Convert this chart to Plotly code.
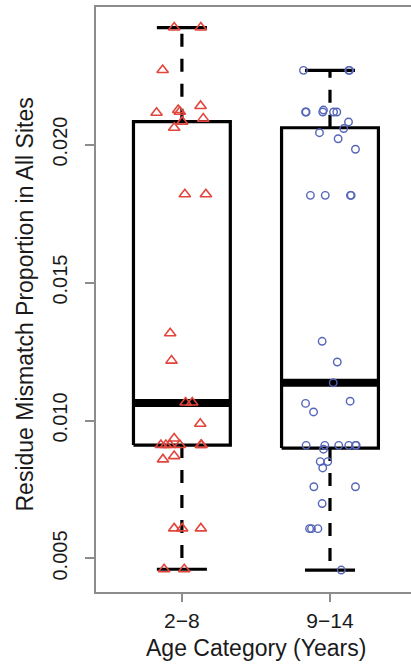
import plotly.graph_objects as go

# ---------------- data ----------------
categories = ["2\u22128", "9\u221214"]
positions = [1, 2]

q1 = [0.00911, 0.00900]
median = [0.01063, 0.01137]
q3 = [0.02083, 0.02061]
whisker_low = [0.00461, 0.00458]
whisker_high = [0.02424, 0.02269]

g1_values = [0.02424, 0.02424, 0.02270, 0.02115, 0.02125, 0.02119, 0.02140, 0.02083,
             0.02094, 0.02061, 0.01820, 0.01820, 0.01316, 0.01217, 0.01065, 0.01065,
             0.00988, 0.00911, 0.00911, 0.00911, 0.00911, 0.00911, 0.00911, 0.00935,
             0.00859, 0.00871, 0.00609, 0.00609, 0.00609, 0.00461, 0.00461]
g1_jitter = [-0.052, 0.128, -0.130, -0.171, -0.025, -0.014, 0.126, 0.002,
             0.144, -0.052, 0.020, 0.162, -0.079, -0.070, 0.025, 0.070,
             0.124, -0.142, -0.108, -0.081, -0.014, 0.128, 0.133, -0.052,
             -0.128, -0.052, -0.052, 0.002, 0.128, -0.120, 0.016]

g2_values = [0.02269, 0.02269, 0.02269, 0.02118, 0.02118, 0.02125, 0.02118, 0.02118,
             0.02118, 0.02082, 0.02058, 0.02043, 0.02021, 0.01983, 0.01816, 0.01816,
             0.01816, 0.01816, 0.01287, 0.01212, 0.01137, 0.01062, 0.01070, 0.01031,
             0.00910, 0.00910, 0.00910, 0.00910, 0.00910, 0.00910, 0.00896, 0.00851,
             0.00851, 0.00828, 0.00760, 0.00760, 0.00699, 0.00608, 0.00608, 0.00608,
             0.00458]
g2_jitter = [-0.179, 0.127, 0.132, -0.165, -0.161, -0.044, -0.049, 0.024,
             0.046, 0.125, 0.093, -0.071, 0.055, 0.172, -0.132, -0.032,
             0.138, 0.143, -0.053, 0.049, 0.022, -0.165, 0.136, -0.111,
             -0.161, -0.035, 0.059, 0.127, 0.172, 0.177, -0.044, -0.066,
             -0.015, -0.049, -0.109, 0.172, -0.053, -0.138, -0.125, -0.082,
             0.076]

y_ticks = [0.005, 0.010, 0.015, 0.020]
y_tick_labels = ["0.005", "0.010", "0.015", "0.020"]

# ---------------- style ----------------
FONT = "Liberation Sans, Arial, Helvetica, sans-serif"
TXT = "#1a1a1a"
FRAME = "#8c8c8c"
BOX_HALF = 0.327
STAPLE_HALF = 0.169

fig = go.Figure()

for p, a, m, b, lo, hi in zip(positions, q1, median, q3, whisker_low, whisker_high):
    # whiskers (dashed), drawn from the box outward
    fig.add_trace(go.Scatter(x=[p, p], y=[b, hi], mode="lines",
                             line=dict(color="black", width=3.2, dash="13px,12px"),
                             hoverinfo="skip"))
    fig.add_trace(go.Scatter(x=[p, p], y=[a, lo], mode="lines",
                             line=dict(color="black", width=3.2, dash="13px,12px"),
                             hoverinfo="skip"))
    # staples
    for v in (lo, hi):
        fig.add_trace(go.Scatter(x=[p - STAPLE_HALF, p + STAPLE_HALF], y=[v, v], mode="lines",
                                 line=dict(color="black", width=3.2), hoverinfo="skip"))
    # box
    fig.add_trace(go.Scatter(x=[p - BOX_HALF, p + BOX_HALF, p + BOX_HALF, p - BOX_HALF, p - BOX_HALF],
                             y=[a, a, b, b, a], mode="lines",
                             line=dict(color="black", width=3.2), hoverinfo="skip"))
    # median
    fig.add_trace(go.Scatter(x=[p - BOX_HALF, p + BOX_HALF], y=[m, m], mode="lines",
                             line=dict(color="black", width=8), hoverinfo="skip"))

fig.add_trace(go.Scatter(
    x=[positions[0] + j for j in g1_jitter], y=g1_values, mode="markers",
    marker=dict(symbol="triangle-up-open", size=10, color="#e2453c",
                line=dict(width=1.6, color="#e2453c")),
    hoverinfo="y"))
fig.add_trace(go.Scatter(
    x=[positions[1] + j for j in g2_jitter], y=g2_values, mode="markers",
    marker=dict(symbol="circle-open", size=7.5, color="#5566b8",
                line=dict(width=1.4, color="#5566b8")),
    hoverinfo="y"))

fig.update_layout(
    width=411, height=667,
    margin=dict(l=96, r=0, t=7, b=75),
    paper_bgcolor="white", plot_bgcolor="white",
    showlegend=False,
    font=dict(family=FONT, color=TXT),
    xaxis=dict(range=[0.42, 2.547], tickvals=positions, ticktext=categories,
               showgrid=False, zeroline=False, showline=True, mirror=True,
               linecolor=FRAME, linewidth=2, ticks="outside", ticklen=8,
               tickwidth=1.5, tickcolor=FRAME, tickfont=dict(size=21, color=TXT),
               ticklabelstandoff=1),
    yaxis=dict(range=[0.003785, 0.024985], tickvals=y_ticks, ticktext=y_tick_labels,
               tickangle=-90,
               showgrid=False, zeroline=False, showline=True, mirror=False,
               linecolor=FRAME, linewidth=2, ticks="outside", ticklen=9,
               tickwidth=1.5, tickcolor=FRAME, tickfont=dict(size=20, color=TXT),
               ticklabelstandoff=10),
    annotations=[
        dict(text="Residue Mismatch Proportion in All Sites", xref="paper", yref="paper",
             x=0, y=(592 - 304.5) / 585, xanchor="center", yanchor="middle",
             xshift=-72, textangle=-90, showarrow=False,
             font=dict(size=23, color=TXT, family=FONT)),
        dict(text="Age Category (Years)", xref="paper", yref="paper",
             x=(256 - 96) / 315, y=0, xanchor="center", yanchor="middle",
             yshift=-55.5, showarrow=False,
             font=dict(size=23, color=TXT, family=FONT)),
    ],
)

fig.write_html("out.html")
